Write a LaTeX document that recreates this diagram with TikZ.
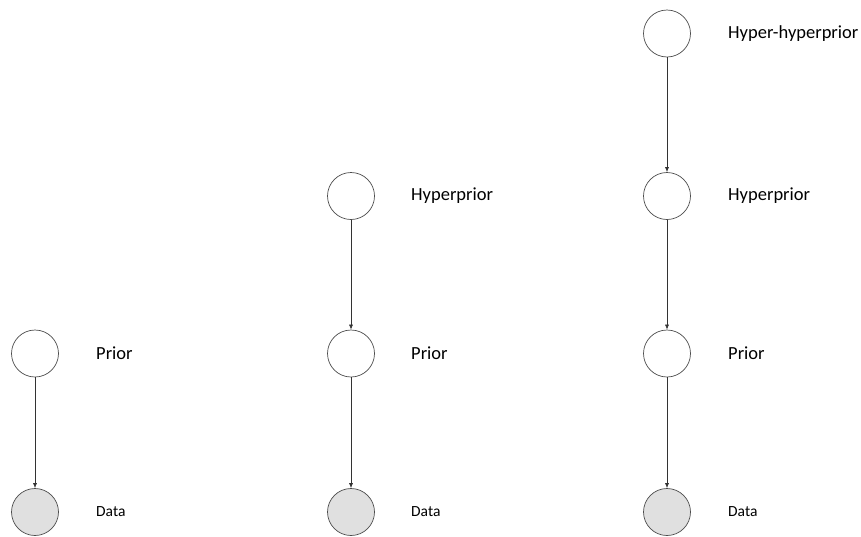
\documentclass[tikz,border=0pt]{standalone}
\usepackage{fontspec}
\setmainfont{Carlito}
\usetikzlibrary{arrows.meta}
\begin{document}
\begin{tikzpicture}[x=1pt,y=-1pt,
  var/.style={circle,draw=black!70,line width=0.7pt,minimum size=47pt,inner sep=0pt,fill=white},
  obs/.style={var,fill=black!12},
  lbl/.style={anchor=west,font=\fontsize{18.5}{21}\selectfont,inner sep=0pt},
  dlbl/.style={anchor=west,font=\fontsize{15.5}{18}\selectfont,inner sep=0pt},
  link/.style={draw=black!80,line width=0.6pt,-{Latex[length=5pt,width=4pt]}}]
\useasboundingbox (0,0) rectangle (861,536);

% single-level model
\node[var] (p1) at (35,353.5) {};
\node[obs] (d1) at (35,512) {};
\node[lbl] (lp1) at (96,353.5) {Prior};
\node[dlbl] (ld1) at (96,512) {Data};
\draw[link] (p1) -- (d1);

% two-level model
\node[var] (h2) at (351,196) {};
\node[var] (p2) at (351,353.5) {};
\node[obs] (d2) at (351,512) {};
\node[lbl] (lh2) at (411,196) {Hyperprior};
\node[lbl] (lp2) at (411,353.5) {Prior};
\node[dlbl] (ld2) at (411,512) {Data};
\draw[link] (h2) -- (p2);
\draw[link] (p2) -- (d2);

% three-level model
\node[var] (hh3) at (667,33.5) {};
\node[var] (h3) at (667,196) {};
\node[var] (p3) at (667,353.5) {};
\node[obs] (d3) at (667,512) {};
\node[lbl] (lhh3) at (728,33.5) {Hyper-hyperprior};
\node[lbl] (lh3) at (728,196) {Hyperprior};
\node[lbl] (lp3) at (728,353.5) {Prior};
\node[dlbl] (ld3) at (728,512) {Data};
\draw[link] (hh3) -- (h3);
\draw[link] (h3) -- (p3);
\draw[link] (p3) -- (d3);
\end{tikzpicture}
\end{document}
